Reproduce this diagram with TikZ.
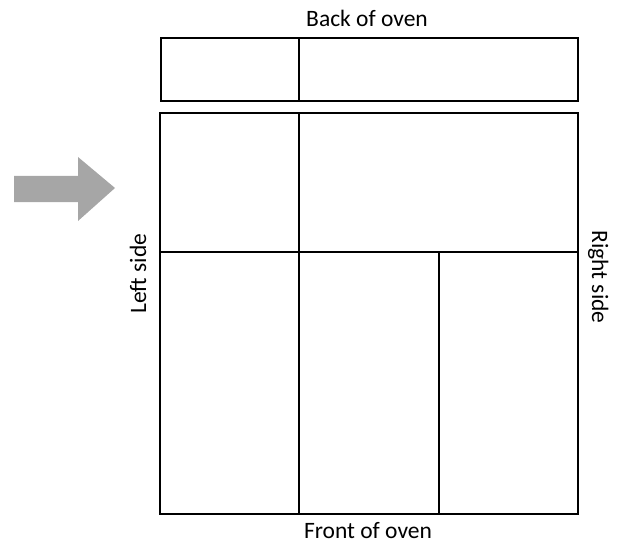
\documentclass[tikz,border=0pt]{standalone}
\usepackage{fontspec}
\setmainfont{Carlito}
\usepackage{tikz}
\usetikzlibrary{shapes,arrows,positioning}

\begin{document}
\begin{tikzpicture}[x=1pt, y=-1pt, line width=2.8pt]
        % Define styles
        \tikzstyle{label} = [font=\fontsize{23.5}{26}\selectfont, inner sep=0pt, anchor=base]
        \tikzstyle{wall} = [draw, line join=miter]
        \definecolor{arrowgray}{RGB}{166,166,166}

        \useasboundingbox (0,0) rectangle (617,545);

        % Back shelf
        \draw [wall] (161,38) rectangle (578,101);
        \draw [wall] (299,38) -- (299,101);

        % Main oven floor
        \draw [wall] (160,113) rectangle (578,514);
        \draw [wall] (160,252) -- (578,252);
        \draw [wall] (299,113) -- (299,514);
        \draw [wall] (439,252) -- (439,514);

        % Arrow
        \fill [arrowgray] (14,176) -- (78,176) -- (78,157) -- (115,188)
              -- (78,221) -- (78,202) -- (14,202) -- cycle;

        % Labels
        \node [label] (Back) at (367,27) {Back of oven};
        \node [label] (Front) at (368,538.5) {Front of oven};
        \node [label, rotate=90] (Left) at (146,273.5) {Left side};
        \node [label, rotate=-90] (Right) at (592,277) {Right side};
\end{tikzpicture}
\end{document}
